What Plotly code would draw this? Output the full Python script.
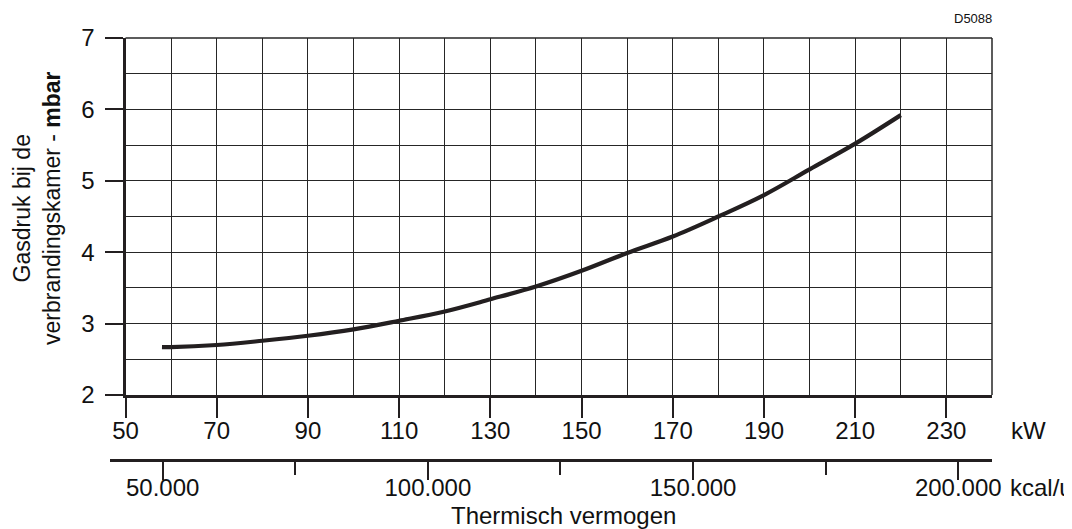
import plotly.graph_objects as go

# ---- data ----
kw = [58, 60, 70, 80, 90, 100, 110, 120, 130, 140, 150, 160, 170, 180, 190, 200, 210, 220]
mbar = [2.67, 2.67, 2.70, 2.76, 2.83, 2.92, 3.04, 3.17, 3.34, 3.52, 3.74, 3.99,
        4.22, 4.50, 4.80, 5.16, 5.52, 5.92]

kw_ticks = [50, 70, 90, 110, 130, 150, 170, 190, 210, 230]
y_ticks = [2, 3, 4, 5, 6, 7]
kcal_ticks = [50000, 100000, 150000, 200000]
kcal_labels = ["50.000", "100.000", "150.000", "200.000"]
kcal_minor = [75000, 125000, 175000]
KCAL_PER_KW = 859.845

# ---- geometry (reference pixel positions; the page body adds an 8px offset) ----
OFF = 8
W, H = 1072 - OFF, 529 - OFF
REF_L, REF_R, REF_T, REF_B = 110, 992, 38, 459   # paper extent in reference px
ML, MR = REF_L - OFF, W - (REF_R - OFF)
MT, MB = REF_T - OFF, H - (REF_B - OFF)
AX_LEFT = 125.5                  # ref px position of the y axis (50 kW)
AX_BOTTOM = 395                  # ref px position of the kW axis (2 mbar)
X_MIN, X_MAX = 50, 240


def px_x(p):
    return (p - REF_L) / (REF_R - REF_L)


def px_y(p):
    return (REF_B - p) / (REF_B - REF_T)


kw_per_px = (X_MAX - X_MIN) / (REF_R - AX_LEFT)
kw_left = X_MIN - (AX_LEFT - REF_L) * kw_per_px

FONT = "Liberation Sans, Arial, Helvetica, sans-serif"
INK = "#231f20"
GRID = "#262626"
FS = 24

fig = go.Figure()
fig.add_trace(go.Scatter(
    x=kw, y=mbar, mode="lines",
    line=dict(color=INK, width=4.2, shape="spline", smoothing=1.0),
    showlegend=False, hoverinfo="skip"))

# helper trace so the kcal axis is built
fig.add_trace(go.Scatter(
    x=kcal_ticks, y=[None] * len(kcal_ticks), xaxis="x2", yaxis="y2",
    mode="markers", showlegend=False, hoverinfo="skip"))

fig.update_layout(
    width=W, height=H,
    margin=dict(l=ML, r=MR, t=MT, b=MB, pad=0),
    paper_bgcolor="white", plot_bgcolor="white",
    font=dict(family=FONT, size=FS, color="#111"),
    xaxis=dict(
        domain=[px_x(AX_LEFT), 1], range=[X_MIN, X_MAX],
        tickmode="array", tickvals=kw_ticks, ticktext=[str(v) for v in kw_ticks],
        ticks="outside", ticklen=20, tickwidth=2, tickcolor=INK,
        showline=True, linewidth=3, linecolor=INK,
        showgrid=True, gridcolor=GRID, gridwidth=1.2,
        minor=dict(dtick=10, tick0=50, showgrid=True, gridcolor=GRID, gridwidth=1.2, ticks=""),
        zeroline=False, ticklabelstandoff=-8,
    ),
    yaxis=dict(
        domain=[px_y(AX_BOTTOM), 1], range=[2, 7],
        tickmode="array", tickvals=y_ticks, ticktext=[str(v) for v in y_ticks],
        ticks="outside", ticklen=18, tickwidth=2, tickcolor=INK,
        showline=True, linewidth=3, linecolor=INK,
        showgrid=True, gridcolor=GRID, gridwidth=1.2,
        minor=dict(dtick=0.5, tick0=2, showgrid=True, gridcolor=GRID, gridwidth=1.2, ticks=""),
        zeroline=False, ticklabelstandoff=5,
    ),
    xaxis2=dict(
        domain=[0, 1], anchor="y2",
        range=[kw_left * KCAL_PER_KW, X_MAX * KCAL_PER_KW],
        tickmode="array", tickvals=kcal_ticks, ticktext=kcal_labels,
        ticks="outside", ticklen=18, tickwidth=2, tickcolor=INK,
        showline=True, linewidth=3, linecolor=INK,
        showgrid=False, zeroline=False,
        minor=dict(tickmode="array", tickvals=kcal_minor, ticks="outside",
                   ticklen=13, tickwidth=2, tickcolor=INK, showgrid=False),
        ticklabelstandoff=-13,
    ),
    yaxis2=dict(domain=[0, 0.01], range=[0, 1], visible=False),
)

# plot frame (top and right border)
fig.add_shape(type="line", xref="x domain", yref="y domain", x0=0, x1=1, y0=1, y1=1,
              line=dict(color=GRID, width=1.5))
fig.add_shape(type="line", xref="x domain", yref="y domain", x0=1, x1=1, y0=0, y1=1,
              line=dict(color=GRID, width=1.5))

ann = dict(xref="paper", yref="paper", showarrow=False, font=dict(family=FONT, size=FS, color="#111"))
fig.add_annotation(text="kW", x=px_x(1009), y=px_y(430), xanchor="left", yanchor="middle", **ann)
fig.add_annotation(text="kcal/u", x=px_x(1008), y=px_y(487), xanchor="left", yanchor="middle", **ann)
fig.add_annotation(text="Thermisch vermogen", x=px_x(563), y=px_y(515), xanchor="center", yanchor="middle", **ann)
fig.add_annotation(text="D5088", x=px_x(994), y=px_y(18), xanchor="right", yanchor="middle",
                   xref="paper", yref="paper", showarrow=False, font=dict(family=FONT, size=13, color="#111"))
fig.add_annotation(text="Gasdruk bij de<br>verbrandingskamer - <b>mbar</b>",
                   x=px_x(37), y=px_y(208), xanchor="center", yanchor="middle", textangle=-90,
                   xref="paper", yref="paper", showarrow=False,
                   font=dict(family=FONT, size=23, color="#111"))

fig.write_html("out.html")
